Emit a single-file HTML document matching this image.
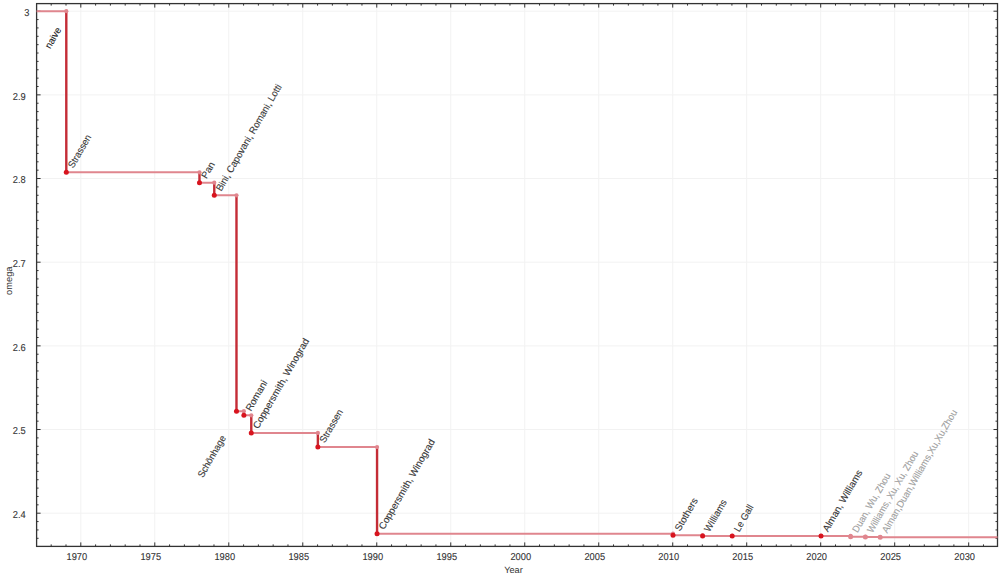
<!DOCTYPE html><html><head><meta charset="utf-8"><style>html,body{margin:0;padding:0;background:#fff;}svg{display:block;}text{font-family:"Liberation Sans",sans-serif;text-rendering:geometricPrecision;}</style></head><body>
<svg width="1000" height="575" viewBox="0 0 1000 575">
<rect width="1000" height="575" fill="#fff"/>
<path d="M80.80 3.6V546.4M154.79 3.6V546.4M228.78 3.6V546.4M302.77 3.6V546.4M376.76 3.6V546.4M450.75 3.6V546.4M524.74 3.6V546.4M598.73 3.6V546.4M672.72 3.6V546.4M746.71 3.6V546.4M820.70 3.6V546.4M894.69 3.6V546.4M968.68 3.6V546.4M36.6 513.20H997.5M36.6 429.53H997.5M36.6 345.87H997.5M36.6 262.20H997.5M36.6 178.53H997.5M36.6 94.87H997.5M36.6 11.20H997.5" stroke="#f2f2f2" stroke-width="1" fill="none"/>
<path d="M51.20 546.4V544.4M51.20 3.6V5.6M66.00 546.4V544.4M66.00 3.6V5.6M80.80 546.4V542.4M80.80 3.6V7.6M95.60 546.4V544.4M95.60 3.6V5.6M110.40 546.4V544.4M110.40 3.6V5.6M125.19 546.4V544.4M125.19 3.6V5.6M139.99 546.4V544.4M139.99 3.6V5.6M154.79 546.4V542.4M154.79 3.6V7.6M169.59 546.4V544.4M169.59 3.6V5.6M184.39 546.4V544.4M184.39 3.6V5.6M199.18 546.4V544.4M199.18 3.6V5.6M213.98 546.4V544.4M213.98 3.6V5.6M228.78 546.4V542.4M228.78 3.6V7.6M243.58 546.4V544.4M243.58 3.6V5.6M258.38 546.4V544.4M258.38 3.6V5.6M273.17 546.4V544.4M273.17 3.6V5.6M287.97 546.4V544.4M287.97 3.6V5.6M302.77 546.4V542.4M302.77 3.6V7.6M317.57 546.4V544.4M317.57 3.6V5.6M332.37 546.4V544.4M332.37 3.6V5.6M347.16 546.4V544.4M347.16 3.6V5.6M361.96 546.4V544.4M361.96 3.6V5.6M376.76 546.4V542.4M376.76 3.6V7.6M391.56 546.4V544.4M391.56 3.6V5.6M406.36 546.4V544.4M406.36 3.6V5.6M421.15 546.4V544.4M421.15 3.6V5.6M435.95 546.4V544.4M435.95 3.6V5.6M450.75 546.4V542.4M450.75 3.6V7.6M465.55 546.4V544.4M465.55 3.6V5.6M480.35 546.4V544.4M480.35 3.6V5.6M495.14 546.4V544.4M495.14 3.6V5.6M509.94 546.4V544.4M509.94 3.6V5.6M524.74 546.4V542.4M524.74 3.6V7.6M539.54 546.4V544.4M539.54 3.6V5.6M554.34 546.4V544.4M554.34 3.6V5.6M569.13 546.4V544.4M569.13 3.6V5.6M583.93 546.4V544.4M583.93 3.6V5.6M598.73 546.4V542.4M598.73 3.6V7.6M613.53 546.4V544.4M613.53 3.6V5.6M628.33 546.4V544.4M628.33 3.6V5.6M643.12 546.4V544.4M643.12 3.6V5.6M657.92 546.4V544.4M657.92 3.6V5.6M672.72 546.4V542.4M672.72 3.6V7.6M687.52 546.4V544.4M687.52 3.6V5.6M702.32 546.4V544.4M702.32 3.6V5.6M717.11 546.4V544.4M717.11 3.6V5.6M731.91 546.4V544.4M731.91 3.6V5.6M746.71 546.4V542.4M746.71 3.6V7.6M761.51 546.4V544.4M761.51 3.6V5.6M776.31 546.4V544.4M776.31 3.6V5.6M791.10 546.4V544.4M791.10 3.6V5.6M805.90 546.4V544.4M805.90 3.6V5.6M820.70 546.4V542.4M820.70 3.6V7.6M835.50 546.4V544.4M835.50 3.6V5.6M850.30 546.4V544.4M850.30 3.6V5.6M865.09 546.4V544.4M865.09 3.6V5.6M879.89 546.4V544.4M879.89 3.6V5.6M894.69 546.4V542.4M894.69 3.6V7.6M909.49 546.4V544.4M909.49 3.6V5.6M924.29 546.4V544.4M924.29 3.6V5.6M939.08 546.4V544.4M939.08 3.6V5.6M953.88 546.4V544.4M953.88 3.6V5.6M968.68 546.4V542.4M968.68 3.6V7.6M983.48 546.4V544.4M983.48 3.6V5.6M36.6 538.30H38.6M997.5 538.30H995.5M36.6 529.94H38.6M997.5 529.94H995.5M36.6 521.57H38.6M997.5 521.57H995.5M36.6 513.20H40.6M997.5 513.20H993.5M36.6 504.84H38.6M997.5 504.84H995.5M36.6 496.47H38.6M997.5 496.47H995.5M36.6 488.10H38.6M997.5 488.10H995.5M36.6 479.74H38.6M997.5 479.74H995.5M36.6 471.37H38.6M997.5 471.37H995.5M36.6 463.00H38.6M997.5 463.00H995.5M36.6 454.64H38.6M997.5 454.64H995.5M36.6 446.27H38.6M997.5 446.27H995.5M36.6 437.90H38.6M997.5 437.90H995.5M36.6 429.53H40.6M997.5 429.53H993.5M36.6 421.17H38.6M997.5 421.17H995.5M36.6 412.80H38.6M997.5 412.80H995.5M36.6 404.43H38.6M997.5 404.43H995.5M36.6 396.07H38.6M997.5 396.07H995.5M36.6 387.70H38.6M997.5 387.70H995.5M36.6 379.33H38.6M997.5 379.33H995.5M36.6 370.97H38.6M997.5 370.97H995.5M36.6 362.60H38.6M997.5 362.60H995.5M36.6 354.23H38.6M997.5 354.23H995.5M36.6 345.87H40.6M997.5 345.87H993.5M36.6 337.50H38.6M997.5 337.50H995.5M36.6 329.13H38.6M997.5 329.13H995.5M36.6 320.77H38.6M997.5 320.77H995.5M36.6 312.40H38.6M997.5 312.40H995.5M36.6 304.03H38.6M997.5 304.03H995.5M36.6 295.67H38.6M997.5 295.67H995.5M36.6 287.30H38.6M997.5 287.30H995.5M36.6 278.93H38.6M997.5 278.93H995.5M36.6 270.57H38.6M997.5 270.57H995.5M36.6 262.20H40.6M997.5 262.20H993.5M36.6 253.83H38.6M997.5 253.83H995.5M36.6 245.47H38.6M997.5 245.47H995.5M36.6 237.10H38.6M997.5 237.10H995.5M36.6 228.73H38.6M997.5 228.73H995.5M36.6 220.37H38.6M997.5 220.37H995.5M36.6 212.00H38.6M997.5 212.00H995.5M36.6 203.63H38.6M997.5 203.63H995.5M36.6 195.27H38.6M997.5 195.27H995.5M36.6 186.90H38.6M997.5 186.90H995.5M36.6 178.53H40.6M997.5 178.53H993.5M36.6 170.17H38.6M997.5 170.17H995.5M36.6 161.80H38.6M997.5 161.80H995.5M36.6 153.43H38.6M997.5 153.43H995.5M36.6 145.07H38.6M997.5 145.07H995.5M36.6 136.70H38.6M997.5 136.70H995.5M36.6 128.33H38.6M997.5 128.33H995.5M36.6 119.97H38.6M997.5 119.97H995.5M36.6 111.60H38.6M997.5 111.60H995.5M36.6 103.23H38.6M997.5 103.23H995.5M36.6 94.87H40.6M997.5 94.87H993.5M36.6 86.50H38.6M997.5 86.50H995.5M36.6 78.13H38.6M997.5 78.13H995.5M36.6 69.77H38.6M997.5 69.77H995.5M36.6 61.40H38.6M997.5 61.40H995.5M36.6 53.03H38.6M997.5 53.03H995.5M36.6 44.67H38.6M997.5 44.67H995.5M36.6 36.30H38.6M997.5 36.30H995.5M36.6 27.93H38.6M997.5 27.93H995.5M36.6 19.57H38.6M997.5 19.57H995.5M36.6 11.20H40.6M997.5 11.20H993.5" stroke="#333" stroke-width="1" fill="none"/>
<rect x="36.6" y="3.6" width="960.90" height="542.80" stroke="#333" stroke-width="1.3" fill="none"/>
<text transform="translate(76.80,559.7) scale(0.93,1)" font-size="10" text-anchor="middle" fill="#333" stroke="#333" stroke-width="0.1">1970</text>
<text transform="translate(150.79,559.7) scale(0.93,1)" font-size="10" text-anchor="middle" fill="#333" stroke="#333" stroke-width="0.1">1975</text>
<text transform="translate(224.78,559.7) scale(0.93,1)" font-size="10" text-anchor="middle" fill="#333" stroke="#333" stroke-width="0.1">1980</text>
<text transform="translate(298.77,559.7) scale(0.93,1)" font-size="10" text-anchor="middle" fill="#333" stroke="#333" stroke-width="0.1">1985</text>
<text transform="translate(372.76,559.7) scale(0.93,1)" font-size="10" text-anchor="middle" fill="#333" stroke="#333" stroke-width="0.1">1990</text>
<text transform="translate(446.75,559.7) scale(0.93,1)" font-size="10" text-anchor="middle" fill="#333" stroke="#333" stroke-width="0.1">1995</text>
<text transform="translate(520.74,559.7) scale(0.93,1)" font-size="10" text-anchor="middle" fill="#333" stroke="#333" stroke-width="0.1">2000</text>
<text transform="translate(594.73,559.7) scale(0.93,1)" font-size="10" text-anchor="middle" fill="#333" stroke="#333" stroke-width="0.1">2005</text>
<text transform="translate(668.72,559.7) scale(0.93,1)" font-size="10" text-anchor="middle" fill="#333" stroke="#333" stroke-width="0.1">2010</text>
<text transform="translate(742.71,559.7) scale(0.93,1)" font-size="10" text-anchor="middle" fill="#333" stroke="#333" stroke-width="0.1">2015</text>
<text transform="translate(816.70,559.7) scale(0.93,1)" font-size="10" text-anchor="middle" fill="#333" stroke="#333" stroke-width="0.1">2020</text>
<text transform="translate(890.69,559.7) scale(0.93,1)" font-size="10" text-anchor="middle" fill="#333" stroke="#333" stroke-width="0.1">2025</text>
<text transform="translate(964.68,559.7) scale(0.93,1)" font-size="10" text-anchor="middle" fill="#333" stroke="#333" stroke-width="0.1">2030</text>
<text transform="translate(25.7,518.10) scale(0.93,1)" font-size="10" text-anchor="end" fill="#333" stroke="#333" stroke-width="0.1">2.4</text>
<text transform="translate(25.7,434.43) scale(0.93,1)" font-size="10" text-anchor="end" fill="#333" stroke="#333" stroke-width="0.1">2.5</text>
<text transform="translate(25.7,350.77) scale(0.93,1)" font-size="10" text-anchor="end" fill="#333" stroke="#333" stroke-width="0.1">2.6</text>
<text transform="translate(25.7,267.10) scale(0.93,1)" font-size="10" text-anchor="end" fill="#333" stroke="#333" stroke-width="0.1">2.7</text>
<text transform="translate(25.7,183.43) scale(0.93,1)" font-size="10" text-anchor="end" fill="#333" stroke="#333" stroke-width="0.1">2.8</text>
<text transform="translate(25.7,99.77) scale(0.93,1)" font-size="10" text-anchor="end" fill="#333" stroke="#333" stroke-width="0.1">2.9</text>
<text transform="translate(29.3,16.10) scale(0.93,1)" font-size="10" text-anchor="end" fill="#333" stroke="#333" stroke-width="0.1">3</text>
<text x="513.5" y="573.4" font-size="9.2" text-anchor="middle" fill="#333">Year</text>
<text transform="translate(12.3,280.7) rotate(-90)" font-size="9.3" text-anchor="middle" fill="#333">omega</text>
<path d="M36.60 11.20H66.30M66.30 172.34H199.48M199.48 182.72H214.28M214.28 195.35H236.48M236.48 411.13H243.88M243.88 415.31H251.28M251.28 432.88H317.87M317.87 447.11H377.06M377.06 533.70H673.02M673.02 535.21H702.62M702.62 535.88H732.21M732.21 535.91H821.00M821.00 535.91H850.60M850.60 536.74H865.39M865.39 537.00H880.19M880.19 537.18H997.5" stroke="#e0868e" stroke-width="2" fill="none"/>
<path d="M66.30 11.20V172.34M199.48 172.34V182.72M214.28 182.72V195.35M236.48 195.35V411.13M243.88 411.13V415.31M251.28 415.31V432.88M317.87 432.88V447.11M377.06 447.11V533.70M673.02 533.70V535.21M702.62 535.21V535.88M732.21 535.88V535.91M821.00 535.91V535.91M850.60 535.91V536.74M865.39 536.74V537.00M880.19 537.00V537.18" stroke="#c42c36" stroke-width="2.4" fill="none"/>
<circle cx="66.30" cy="11.20" r="2.1" fill="#e0868e"/>
<circle cx="66.30" cy="172.34" r="2.5" fill="#d8141e"/>
<circle cx="199.48" cy="172.34" r="2.1" fill="#e0868e"/>
<circle cx="199.48" cy="182.72" r="2.5" fill="#d8141e"/>
<circle cx="214.28" cy="182.72" r="2.1" fill="#e0868e"/>
<circle cx="214.28" cy="195.35" r="2.5" fill="#d8141e"/>
<circle cx="236.48" cy="195.35" r="2.1" fill="#e0868e"/>
<circle cx="236.48" cy="411.13" r="2.5" fill="#d8141e"/>
<circle cx="243.88" cy="411.13" r="2.1" fill="#e0868e"/>
<circle cx="243.88" cy="415.31" r="2.5" fill="#d8141e"/>
<circle cx="251.28" cy="415.31" r="2.1" fill="#e0868e"/>
<circle cx="251.28" cy="432.88" r="2.5" fill="#d8141e"/>
<circle cx="317.87" cy="432.88" r="2.1" fill="#e0868e"/>
<circle cx="317.87" cy="447.11" r="2.5" fill="#d8141e"/>
<circle cx="377.06" cy="447.11" r="2.1" fill="#e0868e"/>
<circle cx="377.06" cy="533.70" r="2.5" fill="#d8141e"/>
<circle cx="673.02" cy="533.70" r="2.1" fill="#e0868e"/>
<circle cx="673.02" cy="535.21" r="2.5" fill="#d8141e"/>
<circle cx="702.62" cy="535.21" r="2.1" fill="#e0868e"/>
<circle cx="702.62" cy="535.88" r="2.5" fill="#d8141e"/>
<circle cx="732.21" cy="535.88" r="2.1" fill="#e0868e"/>
<circle cx="732.21" cy="535.91" r="2.5" fill="#d8141e"/>
<circle cx="821.00" cy="535.91" r="2.1" fill="#e0868e"/>
<circle cx="821.00" cy="535.91" r="2.5" fill="#d8141e"/>
<circle cx="850.60" cy="535.91" r="2.1" fill="#e0868e"/>
<circle cx="850.60" cy="536.74" r="2.5" fill="#e0868e"/>
<circle cx="865.39" cy="536.74" r="2.1" fill="#e0868e"/>
<circle cx="865.39" cy="537.00" r="2.5" fill="#e0868e"/>
<circle cx="880.19" cy="537.00" r="2.1" fill="#e0868e"/>
<circle cx="880.19" cy="537.18" r="2.5" fill="#e0868e"/>
<text transform="translate(50.30,49.20) rotate(-60)" font-size="9.75" fill="#222" stroke="#222" stroke-width="0.1" textLength="22.4" lengthAdjust="spacingAndGlyphs">naive</text>
<text transform="translate(73.30,168.84) rotate(-60)" font-size="9.75" fill="#383838" stroke="#383838" stroke-width="0.1" textLength="36.8" lengthAdjust="spacingAndGlyphs">Strassen</text>
<text transform="translate(206.48,179.22) rotate(-60)" font-size="9.75" fill="#383838" stroke="#383838" stroke-width="0.1">Pan</text>
<text transform="translate(221.28,191.85) rotate(-60)" font-size="9.75" fill="#383838" stroke="#383838" stroke-width="0.1" textLength="121.5" lengthAdjust="spacingAndGlyphs">Bini, Capovani, Romani, Lotti</text>
<text transform="translate(202.88,478.33) rotate(-60)" font-size="9.75" fill="#383838" stroke="#383838" stroke-width="0.1" textLength="46.7" lengthAdjust="spacingAndGlyphs">Schönhage</text>
<text transform="translate(250.88,411.81) rotate(-60)" font-size="9.75" fill="#383838" stroke="#383838" stroke-width="0.1">Romani</text>
<text transform="translate(258.28,429.38) rotate(-60)" font-size="9.75" fill="#383838" stroke="#383838" stroke-width="0.1">Coppersmith, Winograd</text>
<text transform="translate(324.87,443.61) rotate(-60)" font-size="9.75" fill="#383838" stroke="#383838" stroke-width="0.1" textLength="36.8" lengthAdjust="spacingAndGlyphs">Strassen</text>
<text transform="translate(384.06,530.20) rotate(-60)" font-size="9.75" fill="#383838" stroke="#383838" stroke-width="0.1">Coppersmith, Winograd</text>
<text transform="translate(680.02,531.71) rotate(-60)" font-size="9.75" fill="#383838" stroke="#383838" stroke-width="0.1">Stothers</text>
<text transform="translate(709.62,532.38) rotate(-60)" font-size="9.75" fill="#383838" stroke="#383838" stroke-width="0.1" textLength="35.2" lengthAdjust="spacingAndGlyphs">Williams</text>
<text transform="translate(739.21,532.41) rotate(-60)" font-size="9.75" fill="#383838" stroke="#383838" stroke-width="0.1" textLength="29.4" lengthAdjust="spacingAndGlyphs">Le Gall</text>
<text transform="translate(828.00,532.41) rotate(-60)" font-size="9.75" fill="#383838" stroke="#383838" stroke-width="0.1">Alman, Williams</text>
<text transform="translate(857.60,533.24) rotate(-60)" font-size="9.75" fill="#a0a0a0" stroke="#a0a0a0" stroke-width="0.1" textLength="66.6" lengthAdjust="spacingAndGlyphs">Duan, Wu, Zhou</text>
<text transform="translate(872.39,533.50) rotate(-60)" font-size="9.75" fill="#a0a0a0" stroke="#a0a0a0" stroke-width="0.1" textLength="92.3" lengthAdjust="spacingAndGlyphs">Williams, Xu, Xu, Zhou</text>
<text transform="translate(887.19,533.68) rotate(-60)" font-size="9.75" fill="#a0a0a0" stroke="#a0a0a0" stroke-width="0.1" textLength="140.6" lengthAdjust="spacingAndGlyphs">Alman,Duan,Williams,Xu,Xu,Zhou</text>
</svg></body></html>
